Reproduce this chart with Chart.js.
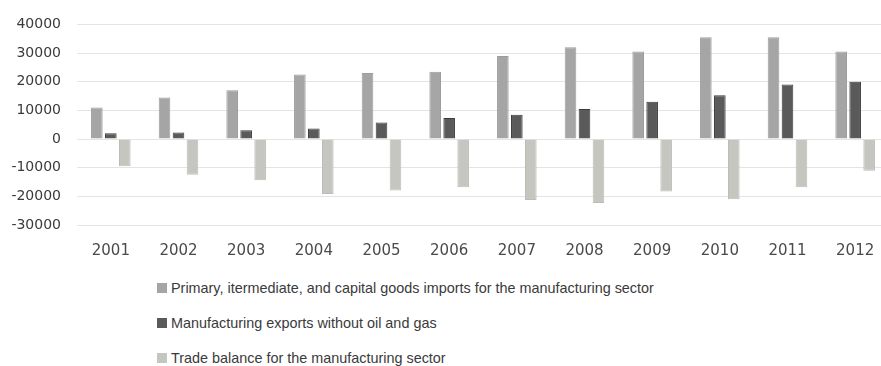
<!DOCTYPE html>
<html>
<head>
<meta charset="utf-8">
<script src="https://cdn.jsdelivr.net/npm/chart.js@4.4.1/dist/chart.umd.min.js"></script>
<style>
    html, body { margin: 0; padding: 0; background: #fff; }
    body { width: 881px; height: 366px; position: relative; overflow: hidden; }
    #wrap { position: absolute; left: 0; top: 0; width: 889px; height: 273px; }
    #legend { position: absolute; left: 157px; top: 278px; font-family: "Liberation Sans", Arial, sans-serif; font-size: 14.4px; color: #3a3a3a; }
    .legend-item { display: flex; align-items: center; height: 20px; margin-bottom: 15px; white-space: nowrap; }
    .legend-box { width: 10px; height: 10px; margin-right: 4px; box-sizing: border-box; }
</style>
</head>
<body>
<div id="wrap"><canvas id="tradeChart"></canvas></div>
<div id="legend"></div>
<script>
// Manufacturing trade, 2001-2012
const years = ['2001', '2002', '2003', '2004', '2005', '2006', '2007', '2008', '2009', '2010', '2011', '2012'];
const imports = [11000, 14500, 17000, 22500, 23000, 23500, 29000, 32000, 30500, 35500, 35500, 30500];
const exports = [2000, 2300, 3100, 3700, 5800, 7300, 8500, 10500, 13000, 15300, 19000, 20000];
const tradeBalance = [-9500, -12500, -14400, -19200, -18000, -16800, -21300, -22300, -18300, -21000, -16800, -11100];
const seriesNames = [
    'Primary, itermediate, and capital goods imports for the manufacturing sector',
    'Manufacturing exports without oil and gas',
    'Trade balance for the manufacturing sector'
];
const yTicks = { min: -30000, max: 40000, step: 10000 };

const barOpts = {
    barPercentage: 0.83,
    categoryPercentage: 0.62
};

const ctx = document.getElementById('tradeChart').getContext('2d');
const chart = new Chart(ctx, {
    type: 'bar',
    data: {
        labels: years,
        datasets: [{
            label: seriesNames[0],
            data: imports,
            backgroundColor: '#a5a5a5',
            borderColor: '#9c9c9c',
            borderWidth: 1,
            ...barOpts
        }, {
            label: seriesNames[1],
            data: exports,
            backgroundColor: '#5a5a5a',
            borderColor: '#3c3c3c',
            borderWidth: 1,
            ...barOpts
        }, {
            label: seriesNames[2],
            data: tradeBalance,
            backgroundColor: '#c6c6c1',
            borderColor: '#bdbdb8',
            borderWidth: 1,
            ...barOpts
        }]
    },
    options: {
        responsive: true,
        maintainAspectRatio: false,
        animation: false,
        layout: {
            padding: { top: 13, left: 11, right: 0, bottom: 4 }
        },
        plugins: {
            legend: { display: false },
            tooltip: { enabled: false }
        },
        scales: {
            x: {
                grid: { display: false },
                border: { display: false },
                ticks: {
                    color: '#4a4a4a',
                    padding: 9,
                    font: { family: '"DejaVu Sans", sans-serif', size: 15 }
                }
            },
            y: {
                min: yTicks.min,
                max: yTicks.max,
                grid: { color: '#e4e4e4', lineWidth: 1, drawTicks: false },
                border: { display: false },
                // fixed axis width so the plot starts at the same x every time
                afterFit: scale => { scale.width = 66; },
                ticks: {
                    stepSize: yTicks.step,
                    color: '#3a3a3a',
                    padding: 16,
                    font: { family: '"DejaVu Sans", sans-serif', size: 14 },
                    callback: v => String(v)
                }
            }
        }
    }
});

// Legend drawn as html, one entry per line
const legendEl = document.getElementById('legend');
chart.data.datasets.forEach(ds => {
    const item = document.createElement('div');
    item.className = 'legend-item';
    item.innerHTML = `<span class="legend-box" style="background:${ds.backgroundColor}"></span><span>${ds.label}</span>`;
    legendEl.appendChild(item);
});
</script>
</body>
</html>
